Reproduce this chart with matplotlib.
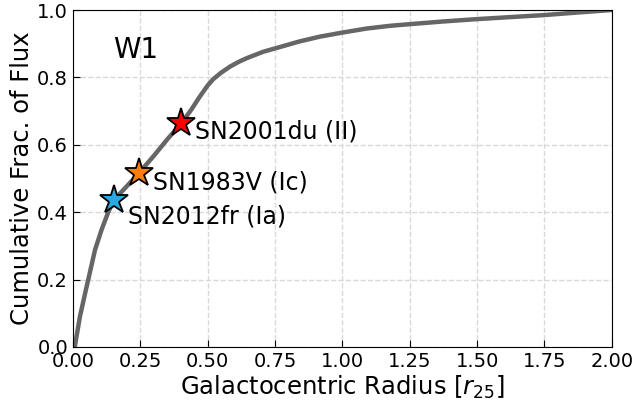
import matplotlib
matplotlib.use("Agg")
import matplotlib.pyplot as plt
from matplotlib.ticker import FormatStrFormatter

# cumulative W1 flux profile vs. radius (in units of r25)
radius = [0.0, 0.007, 0.026, 0.048, 0.057, 0.082, 0.106, 0.131, 0.152, 0.2,
          0.246, 0.3, 0.35, 0.403, 0.44, 0.47, 0.5, 0.521, 0.55, 0.583,
          0.615, 0.645, 0.706, 0.768, 0.842, 0.917, 1.0, 1.09, 1.176, 1.25,
          1.375, 1.5, 1.625, 1.75, 1.88, 2.0]
frac = [0.0, 0.001, 0.09, 0.169, 0.2, 0.288, 0.347, 0.4, 0.436, 0.477,
        0.517, 0.567, 0.616, 0.664, 0.705, 0.742, 0.776, 0.795, 0.814, 0.832,
        0.846, 0.857, 0.876, 0.89, 0.907, 0.921, 0.933, 0.945, 0.953, 0.958,
        0.966, 0.973, 0.979, 0.985, 0.993, 1.0]

# supernova positions along the profile
sn_names = ["SN2012fr (Ia)", "SN1983V (Ic)", "SN2001du (II)"]
sn_r = [0.152, 0.246, 0.403]
sn_frac = [0.436, 0.517, 0.664]
sn_colors = ["#2aa9e1", "#ff7f0e", "#ff0000"]
sn_offsets = [(10, -12), (10, -7), (10, -6)]

fig, ax = plt.subplots(figsize=(6.34, 4.0), dpi=100)
fig.subplots_adjust(left=0.115, right=0.965, top=0.975, bottom=0.1325)

ax.plot(radius, frac, color="#666666", lw=3.2, zorder=2,
        solid_joinstyle="round")

for name, r, f, c, off in zip(sn_names, sn_r, sn_frac, sn_colors, sn_offsets):
    ax.plot(r, f, marker="*", ms=21, mfc=c, mec="black", mew=1.3,
            ls="none", zorder=3)
    ax.annotate(name, (r, f), xytext=off, textcoords="offset points",
                fontsize=17, ha="left", va="center")

ax.text(0.148, 0.88, "W1", fontsize=20, ha="left", va="center")

ax.set_xlim(0, 2.0)
ax.set_ylim(0, 1.0)
ax.set_xticks([0, 0.25, 0.5, 0.75, 1.0, 1.25, 1.5, 1.75, 2.0])
ax.set_yticks([0, 0.2, 0.4, 0.6, 0.8, 1.0])
ax.xaxis.set_major_formatter(FormatStrFormatter("%.2f"))
ax.yaxis.set_major_formatter(FormatStrFormatter("%.1f"))
ax.tick_params(direction="in", labelsize=14, length=5)
ax.grid(True, ls="--", color="#d9d9d9", lw=1)
ax.set_axisbelow(True)

ax.set_xlabel(r"Galactocentric Radius [$r_{25}$]", fontsize=17.5, labelpad=2)
ax.set_ylabel("Cumulative Frac. of Flux", fontsize=17.5, labelpad=2)

fig.savefig("out.png", dpi=100)
